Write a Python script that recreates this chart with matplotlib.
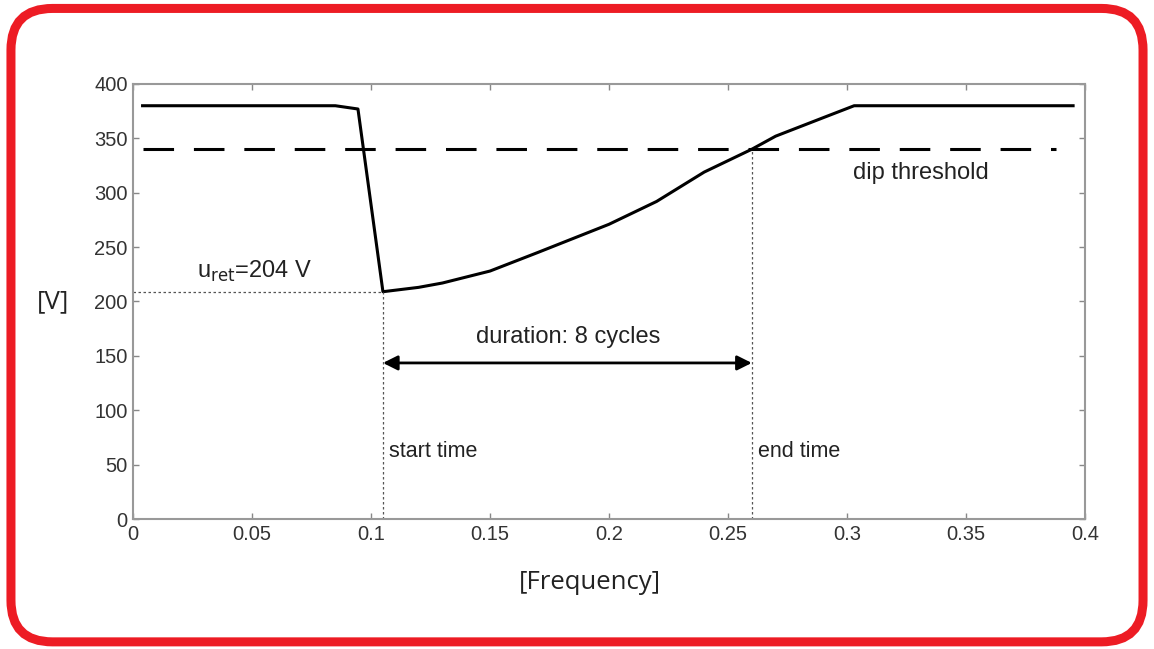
import matplotlib
matplotlib.use("Agg")
from matplotlib import pyplot as plt
from matplotlib.patches import FancyBboxPatch

# voltage curve
freq = [0.004, 0.085, 0.0945, 0.105, 0.12, 0.13, 0.15, 0.17, 0.2, 0.22, 0.24, 0.26, 0.27, 0.29, 0.303, 0.395]
volts = [380, 380, 377, 209, 213, 217, 228, 245, 271, 292, 319, 340, 352, 369, 380, 380]

threshold = 340
threshold_x = [0.004, 0.388]
u_ret = 209
start_t = 0.105
end_t = 0.26

xticks = [0, 0.05, 0.1, 0.15, 0.2, 0.25, 0.3, 0.35, 0.4]
xticklabels = ['0', '0.05', '0.1', '0.15', '0.2', '0.25', '0.3', '0.35', '0.4']
yticks = [0, 50, 100, 150, 200, 250, 300, 350, 400]

plt.rcParams['font.family'] = ['Liberation Sans', 'DejaVu Sans']

fig = plt.figure(figsize=(11.54, 6.49), dpi=100)
ax = fig.add_axes([0.1153, 0.2003, 0.8249, 0.6703])

# red rounded frame
frame = FancyBboxPatch((0.0095, 0.011), 0.981, 0.976, boxstyle="round,pad=0,rounding_size=0.036",
                       transform=fig.transFigure, facecolor='none', edgecolor='#ED1C24',
                       linewidth=6.5, mutation_aspect=1154 / 649, clip_on=False)
fig.patches.append(frame)

ax.plot(freq, volts, color='black', linewidth=2.2)
ax.plot(threshold_x, [threshold, threshold], color='black', linewidth=2.2, dashes=(10, 6.5))

# dotted helper lines
dot = dict(color='#555555', linewidth=0.9, linestyle=(0, (2, 2)))
ax.plot([0, start_t], [u_ret, u_ret], **dot)
ax.plot([start_t, start_t], [0, u_ret], **dot)
ax.plot([end_t, end_t], [0, threshold], **dot)

ax.annotate('', xy=(start_t, 143.5), xytext=(end_t, 143.5),
            arrowprops=dict(arrowstyle='<|-|>', color='black', linewidth=2,
                            mutation_scale=22, shrinkA=0, shrinkB=0))

ax.text(0.183, 167, 'duration: 8 cycles', fontsize=17, ha='center', va='center', color='#222222')
ax.text(0.027, 228, r'u$_{\mathrm{ret}}$=204 V', fontsize=17, ha='left', va='center', color='#222222')
ax.text(0.331, 318, 'dip threshold', fontsize=17, ha='center', va='center', color='#222222')
ax.text(start_t + 0.0025, 62, 'start time', fontsize=15.5, ha='left', va='center', color='#222222')
ax.text(end_t + 0.0025, 62, 'end time', fontsize=15.5, ha='left', va='center', color='#222222')

ax.set_xlim(0, 0.4)
ax.set_ylim(0, 400)
ax.set_xticks(xticks)
ax.set_xticklabels(xticklabels)
ax.set_yticks(yticks)
ax.tick_params(direction='in', length=4, width=1, color='#888888', labelsize=14.5,
               labelcolor='#333333', top=True, right=True, pad=4)
for s in ax.spines.values():
    s.set_color('#999999')
    s.set_linewidth(1.5)

fig.text(0.046, 0.535, '[V]', fontsize=18.5, ha='center', va='center', family=['Open Sans', 'DejaVu Sans'], color='#222222')
fig.text(0.511, 0.103, '[Frequency]', fontsize=18.5, ha='center', va='center', family=['Open Sans', 'DejaVu Sans'], color='#222222')

plt.savefig('out.png', dpi=100)
